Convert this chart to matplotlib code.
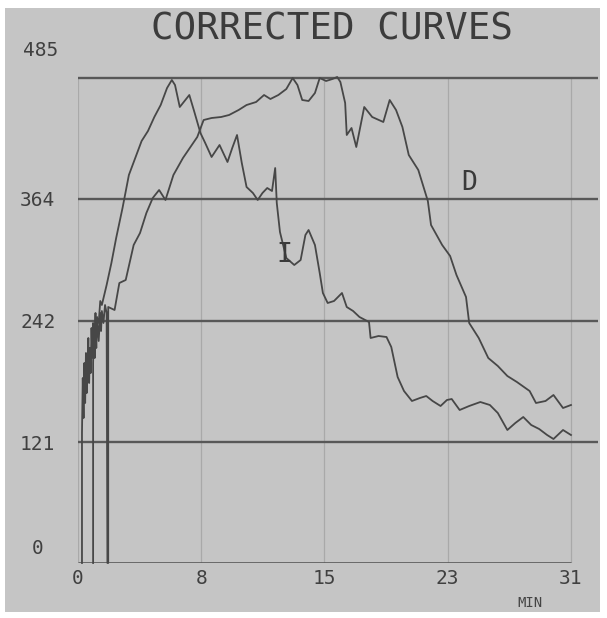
import matplotlib.pyplot as plt
from matplotlib.patches import Rectangle
from matplotlib.transforms import ScaledTranslation

# tick values / labels
x_ticks = [0, 7.75, 15.5, 23.25, 31]
x_labels = ["0", "8", "15", "23", "31"]
y_ticks = [0, 121, 242, 364, 485]
y_labels = ["0", "121", "242", "364", "485"]

# curve I (early peak)
i_t = [0.25, 0.25, 0.3, 0.35, 0.4, 0.45, 0.5, 0.55, 0.6, 0.65, 0.7, 0.75, 0.8, 0.85,
       0.9, 0.95, 1.0, 1.05, 1.1, 1.15, 1.2, 1.3, 1.4, 1.5,
       1.8, 2.1, 2.4, 2.8, 3.2, 3.6, 4.0, 4.4, 4.8, 5.2, 5.6, 5.9, 6.1, 6.4, 6.7,
       7.0, 7.3, 7.7, 8.0, 8.4, 8.9, 9.4, 9.7, 10.0, 10.3, 10.6, 11.0, 11.3, 11.6,
       11.9, 12.2, 12.4, 12.5, 12.7, 13.1, 13.6, 14.0, 14.3, 14.5, 14.9, 15.2, 15.4,
       15.7, 16.1, 16.6, 16.9, 17.3, 17.7, 18.3, 18.4, 18.9, 19.4, 19.7, 20.1, 20.5,
       21.0, 21.5, 21.9, 22.3, 22.8, 23.2, 23.5, 24.0, 24.6, 25.3, 25.9, 26.4, 27.0,
       27.5, 28.0, 28.5, 29.0, 29.5, 29.9, 30.5, 31.0]
i_v = [0, 130, 185, 145, 200, 160, 210, 170, 195, 225, 180, 215, 190, 235,
       205, 240, 215, 230, 250, 225, 245, 240, 262, 258,
       278, 300, 325, 355, 388, 405, 422, 432, 446, 458, 475, 483, 478, 456, 462,
       468, 452, 430, 420, 406, 418, 401, 415, 428, 400, 376, 370, 363, 370,
       375, 372, 395, 360, 331, 305, 298, 303, 328, 333, 318, 290, 270,
       260, 262, 270, 256, 252, 246, 241, 225, 227, 226, 216, 186, 172,
       162, 165, 167, 162, 157, 163, 164, 153, 157, 161, 158, 150, 133,
       140, 146, 138, 134, 128, 124, 133, 128]

# curve D (late peak)
d_t = [0.95, 0.95, 1.0, 1.05, 1.1, 1.15, 1.2, 1.3, 1.4, 1.45, 1.5, 1.6, 1.7, 1.8,
       1.85, 1.9, 1.9, 2.3, 2.6, 3.0,
       3.5, 3.9, 4.3, 4.7, 5.1, 5.5, 6.0, 6.6, 7.5, 7.9, 8.4, 9.0, 9.5, 10.1, 10.6,
       11.2, 11.7, 12.1, 12.6, 13.1, 13.5, 13.8, 14.1, 14.5, 14.9, 15.2, 15.6, 16.0,
       16.3, 16.5, 16.8, 16.9, 17.2, 17.5, 17.8, 18.0, 18.5, 19.2, 19.6, 20.0, 20.4,
       20.8, 21.4, 22.0, 22.2, 22.9, 23.4, 23.8, 24.4, 24.6, 25.2, 25.8, 26.4, 27.0,
       27.6, 28.4, 28.8, 29.4, 29.9, 30.5, 31.0]
d_v = [0, 200, 232, 205, 240, 215, 246, 222, 250, 232, 252, 240, 258, 250,
       0, 0, 256, 253, 280, 283,
       318, 330, 350, 365, 373, 363, 388, 405, 426, 443, 445, 446, 448, 453, 458,
       461, 468, 464, 468, 474, 485, 478, 463, 462, 470, 485, 482, 484,
       486, 481, 460, 428, 435, 416, 440, 456, 446, 441, 463, 453, 436,
       408, 393, 362, 338, 318, 307, 288, 266, 240, 225, 205, 197, 187,
       181, 172, 160, 162, 168, 155, 158]

W, H = 607, 618
fig = plt.figure(figsize=(W / 100, H / 100), dpi=100, facecolor="white")
fig.patches.append(Rectangle((5 / W, 6 / H), 595 / W, 604 / H, transform=fig.transFigure,
                             facecolor="#c5c5c5", edgecolor="none", zorder=-10))

ax = fig.add_axes([78 / W, 55 / H, 520 / W, 485 / H])
ax.set_facecolor("none")
ax.set_xlim(0, 32.7)
ax.set_ylim(0, 485)
for s in ax.spines.values():
    s.set_visible(False)

ink = "#474747"
# faint vertical grid
ax.vlines(x_ticks, 0, 485, color="#a9a9a9", lw=0.9, zorder=1)
# dark horizontal grid
ax.hlines(y_ticks[1:], 0, 32.7, color="#585858", lw=1.7, zorder=2, clip_on=False)
ax.hlines(0, 0, 31, color="#585858", lw=1.9, zorder=2)

ax.plot(i_t, i_v, color=ink, lw=1.3, zorder=3, clip_on=False)
ax.plot(d_t, d_v, color=ink, lw=1.3, zorder=3, clip_on=False)

mono = "DejaVu Sans Mono"
ax.set_xticks(x_ticks, x_labels, fontfamily=mono, fontsize=14, color="#404040")
ax.set_yticks(y_ticks, y_labels, fontfamily=mono, fontsize=14, color="#404040")
ax.tick_params(axis="x", length=0, pad=4)
ax.tick_params(axis="y", length=0, pad=29)
for lab in ax.get_yticklabels():
    lab.set_horizontalalignment("center")
ylabs = ax.get_yticklabels()
ylabs[0].set_transform(ylabs[0].get_transform() + ScaledTranslation(0, 0.17, fig.dpi_scale_trans))
ylabs[-1].set_transform(ylabs[-1].get_transform() + ScaledTranslation(0.03, 0.30, fig.dpi_scale_trans))

ax.text(24.6, 380, "D", fontfamily=mono, fontsize=19, color="#3a3a3a", ha="center", va="center")
ax.text(13.0, 308, "I", fontfamily=mono, fontsize=19, color="#3a3a3a", ha="center", va="center")

fig.text(332 / W, 1 - 30 / H, "CORRECTED CURVES", fontfamily=mono, fontsize=27,
         color="#3c3c3c", ha="center", va="center")
fig.text(530 / W, 1 - 603 / H, "MIN", fontfamily=mono, fontsize=10,
         color="#444444", ha="center", va="center")

fig.savefig("out.png", dpi=100, facecolor="white")
